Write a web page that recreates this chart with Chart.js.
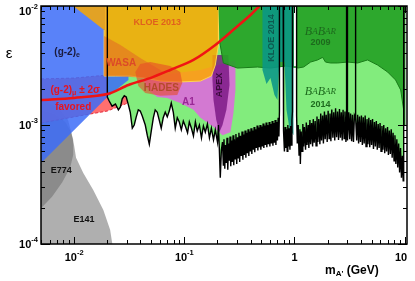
<!DOCTYPE html>
<html>
<head>
<meta charset="utf-8">
<script src="https://cdn.jsdelivr.net/npm/chart.js@4.4.1/dist/chart.umd.min.js"></script>
<style>
  html, body { margin: 0; padding: 0; background: #fff; }
  #wrap { width: 415px; height: 281px; }
</style>
</head>
<body>
<div id="wrap"><canvas id="darkPhoton" width="415" height="281"></canvas></div>
<script>
// axis range (mass in GeV, kinetic mixing epsilon)
const massRange = [0.005, 10.5];
const epsRange = [1e-4, 1e-2];
const xTickValues = [0.01, 0.1, 1, 10];
const xTickLabels = [['10', '-2'], ['10', '-1'], ['1', ''], ['10', '']];
const yTickValues = [1e-4, 1e-3, 1e-2];
const yTickLabels = [['10', '-4'], ['10', '-3'], ['10', '-2']];

// region outlines, [mass, epsilon]
const e141Edge = [[0.005, 1.34e-3], [0.0067, 1.24e-3], [0.0083, 1.06e-3], [0.0094, 8.6e-4], [0.0100, 6.7e-4],
  [0.0104, 5.3e-4], [0.0121, 3.95e-4], [0.0149, 2.84e-4], [0.0184, 1.93e-4], [0.0212, 1.32e-4],
  [0.0222, 1.0e-4], [0.005, 1.0e-4]];
const e774Edge = [[0.005, 1.62e-3], [0.0072, 1.39e-3], [0.0088, 1.10e-3], [0.0098, 7.5e-4], [0.0098, 5.6e-4],
  [0.0092, 4.4e-4], [0.0078, 3.3e-4], [0.0063, 2.5e-4], [0.005, 2.0e-4]];
const gm2MuBand = [[0.005, 2.44e-3], [0.010, 2.48e-3], [0.020, 2.63e-3], [0.0311, 3.26e-3], [0.049, 3.73e-3],
  [0.0745, 4.35e-3], [0.121, 5.28e-3], [0.191, 7.06e-3], [0.273, 1.0e-2], [0.746, 1.0e-2], [0.605, 7.63e-3],
  [0.398, 5.38e-3], [0.212, 3.38e-3], [0.113, 2.39e-3], [0.0605, 1.97e-3], [0.0398, 1.69e-3],
  [0.0291, 1.50e-3], [0.020, 1.31e-3], [0.0122, 1.21e-3], [0.005, 1.04e-3]];
const gm2MuCentral = [[0.005, 1.62e-3], [0.010, 1.69e-3], [0.020, 1.82e-3], [0.0311, 2.17e-3], [0.049, 2.48e-3],
  [0.0745, 2.90e-3], [0.121, 3.52e-3], [0.191, 4.70e-3], [0.291, 6.53e-3], [0.398, 8.4e-3], [0.48, 1.0e-2]];
const gm2eEdge = [[0.005, 1.0e-2], [0.0191, 1.0e-2], [0.0191, 2.58e-3], [0.0311, 2.58e-3], [0.0311, 2.39e-3],
  [0.020, 1.72e-3], [0.005, 4.8e-4]];
const kloe2013Edge = [[0.0098, 1.0e-2], [0.204, 1.0e-2], [0.204, 4.7e-3], [0.191, 3.19e-3], [0.176, 2.58e-3],
  [0.140, 2.34e-3], [0.0918, 2.30e-3], [0.0605, 2.34e-3], [0.0442, 2.48e-3], [0.0323, 2.58e-3],
  [0.0237, 2.58e-3], [0.0187, 2.58e-3], [0.0187, 6.28e-3]];
const wasaEdge = [[0.0187, 5.6e-3], [0.0263, 4.7e-3], [0.0398, 3.66e-3], [0.0671, 2.74e-3], [0.049, 2.48e-3],
  [0.0323, 2.53e-3], [0.0237, 2.58e-3], [0.0187, 2.58e-3]];
const hadesEdge = [[0.0359, 2.79e-3], [0.0398, 3.26e-3], [0.049, 3.38e-3], [0.0745, 3.13e-3], [0.0918, 2.79e-3],
  [0.0959, 2.26e-3], [0.0863, 1.79e-3], [0.0605, 1.76e-3], [0.0442, 1.86e-3], [0.0382, 2.13e-3]];
const a1Edge = [[0.0424, 2.39e-3], [0.0471, 1.97e-3], [0.0568, 1.72e-3], [0.070, 1.69e-3], [0.0918, 1.53e-3],
  [0.121, 1.34e-3], [0.140, 1.15e-3], [0.184, 9.6e-4], [0.222, 8.2e-4], [0.262, 8.7e-4], [0.279, 1.26e-3],
  [0.291, 1.97e-3], [0.291, 3.52e-3], [0.140, 2.90e-3], [0.0605, 2.63e-3]];
const apexEdge = [[0.180, 3.87e-3], [0.251, 3.87e-3], [0.257, 2.17e-3], [0.241, 1.34e-3], [0.222, 1.0e-3],
  [0.208, 8.7e-4], [0.195, 1.10e-3], [0.184, 1.62e-3], [0.180, 2.39e-3]];
const kloe2014Edge = [[0.512, 1.0e-2], [0.979, 1.0e-2], [0.979, 8.2e-4], [0.90, 9.4e-4], [0.846, 1.34e-3],
  [0.811, 3.38e-3], [0.73, 3.38e-3], [0.70, 1.62e-3], [0.658, 1.79e-3], [0.605, 2.48e-3], [0.557, 2.21e-3],
  [0.512, 2.90e-3]];
const babar2009Edge = [[0.204, 1.0e-2], [0.969, 1.0e-2], [0.969, 3.07e-3], [1.043, 3.07e-3], [1.043, 1.0e-2],
  [10.0, 1.0e-2], [10.0, 1.0e-3], [9.79, 1.34e-3], [9.2, 1.97e-3], [8.27, 2.39e-3], [7.0, 2.79e-3],
  [5.68, 3.19e-3], [4.61, 3.52e-3], [3.74, 3.32e-3], [3.03, 3.38e-3], [2.46, 3.32e-3], [2.12, 3.32e-3],
  [1.91, 3.38e-3], [1.80, 3.70e-3], [1.62, 3.52e-3], [1.40, 3.38e-3], [1.21, 3.07e-3], [1.065, 3.01e-3],
  [1.043, 3.07e-3], [0.969, 3.07e-3], [0.828, 3.13e-3], [0.605, 3.01e-3], [0.461, 3.07e-3], [0.303, 3.01e-3],
  [0.226, 3.32e-3], [0.208, 5.18e-3]];
const babar2014Limit = [
  [0.0200, 1.0e-2], [0.0200, 1.72e-3], [0.0208, 1.59e-3], [0.0221, 1.44e-3], [0.0237, 1.50e-3], [0.0252, 1.34e-3],
  [0.0263, 1.42e-3], [0.0273, 1.66e-3], [0.0285, 1.76e-3], [0.0297, 1.72e-3], [0.0311, 1.47e-3], [0.0323, 1.28e-3],
  [0.0337, 9.4e-4], [0.0351, 1.0e-3], [0.0366, 1.17e-3], [0.0382, 1.34e-3], [0.0398, 1.31e-3], [0.0415, 1.19e-3],
  [0.0442, 1.0e-3], [0.0461, 8.2e-4], [0.0481, 6.9e-4], [0.0501, 8.9e-4], [0.0523, 1.15e-3], [0.0544, 1.34e-3],
  [0.0568, 1.28e-3], [0.0592, 1.10e-3], [0.0617, 9.4e-4], [0.0643, 1.15e-3], [0.0671, 1.28e-3], [0.0700, 1.17e-3],
  [0.0730, 1.31e-3], [0.0761, 1.53e-3], [0.0794, 1.28e-3], [0.0827, 9.4e-4], [0.0863, 1.15e-3], [0.0900, 1.06e-3],
  [0.0939, 9.1e-4], [0.0979, 1.08e-3], [0.102, 9.8e-4], [0.107, 8.6e-4], [0.111, 1.06e-3], [0.116, 9.4e-4],
  [0.121, 8.1e-4], [0.126, 1.06e-3], [0.131, 8.9e-4], [0.137, 1.0e-3], [0.143, 7.8e-4], [0.149, 9.8e-4],
  [0.155, 8.7e-4], [0.162, 1.02e-3], [0.169, 7.8e-4], [0.176, 9.4e-4], [0.184, 7.5e-4], [0.191, 9.1e-4],
  [0.200, 7.2e-4], [0.204, 1.0e-3], [0.208, 6.2e-4], [0.212, 3.6e-4], [0.217, 6.2e-4],
  [0.222, 7.2e-4], [0.226, 4.6e-4], [0.229, 7.6e-4], [0.233, 4.3e-4], [0.236, 6.8e-4], [0.240, 4.8e-4],
  [0.244, 7.8e-4], [0.248, 4.2e-4], [0.252, 7.0e-4], [0.256, 5.0e-4], [0.260, 8.0e-4], [0.264, 4.5e-4],
  [0.268, 7.4e-4], [0.272, 4.9e-4], [0.277, 8.2e-4], [0.281, 4.6e-4], [0.285, 7.6e-4], [0.290, 5.2e-4],
  [0.294, 8.4e-4], [0.299, 4.7e-4], [0.304, 7.9e-4], [0.309, 5.3e-4], [0.313, 8.6e-4], [0.318, 4.9e-4],
  [0.323, 8.1e-4], [0.329, 5.5e-4], [0.334, 8.8e-4], [0.340, 5.1e-4], [0.345, 8.3e-4], [0.350, 5.6e-4],
  [0.356, 9.0e-4], [0.362, 5.3e-4], [0.367, 8.6e-4], [0.373, 5.8e-4], [0.379, 9.2e-4], [0.385, 5.5e-4],
  [0.391, 8.8e-4], [0.397, 6.0e-4], [0.403, 9.4e-4], [0.410, 5.7e-4], [0.416, 9.0e-4], [0.423, 6.2e-4],
  [0.430, 9.6e-4], [0.436, 5.9e-4], [0.443, 9.2e-4], [0.450, 6.4e-4], [0.458, 9.9e-4], [0.465, 6.1e-4],
  [0.472, 9.5e-4], [0.480, 6.5e-4], [0.487, 1.0e-3], [0.495, 6.2e-4], [0.503, 9.7e-4], [0.511, 6.6e-4],
  [0.519, 1.03e-3], [0.527, 6.4e-4], [0.536, 9.9e-4], [0.544, 6.8e-4], [0.553, 1.05e-3], [0.561, 6.5e-4],
  [0.570, 1.0e-3], [0.580, 6.9e-4], [0.589, 1.06e-3], [0.598, 6.6e-4], [0.607, 1.02e-3], [0.617, 7.0e-4],
  [0.627, 1.08e-3], [0.637, 6.7e-4], [0.647, 1.04e-3], [0.657, 7.1e-4], [0.667, 1.1e-3], [0.678, 6.8e-4],
  [0.689, 1.06e-3], [0.700, 7.4e-4], [0.711, 1.15e-3], [0.722, 8.0e-4], [0.730, 1.3e-3],
  [0.730, 1.0e-2], [0.790, 1.0e-2], [0.790, 1.3e-3],
  [0.800, 9.0e-4], [0.810, 6.0e-4], [0.822, 9.6e-4], [0.834, 6.4e-4], [0.846, 9.2e-4], [0.858, 6.0e-4],
  [0.870, 1.0e-3], [0.883, 6.6e-4], [0.896, 9.4e-4], [0.909, 6.2e-4], [0.922, 9.8e-4], [0.935, 6.8e-4],
  [0.948, 1.1e-3], [0.958, 1.3e-3], [0.958, 1.0e-2], [1.045, 1.0e-2], [1.045, 1.2e-3],
  [1.06, 7.0e-4], [1.08, 1.0e-3], [1.10, 5.6e-4], [1.12, 9.2e-4], [1.13, 4.7e-4], [1.15, 8.8e-4],
  [1.17, 6.0e-4], [1.19, 1.02e-3], [1.21, 6.6e-4], [1.23, 9.6e-4], [1.26, 6.2e-4], [1.28, 1.05e-3],
  [1.30, 6.8e-4], [1.33, 1.0e-3], [1.35, 6.4e-4], [1.38, 1.1e-3], [1.40, 6.9e-4], [1.43, 1.04e-3],
  [1.46, 6.6e-4], [1.48, 1.12e-3], [1.51, 7.1e-4], [1.54, 1.08e-3], [1.57, 6.7e-4], [1.60, 1.18e-3],
  [1.63, 7.2e-4], [1.66, 1.12e-3], [1.70, 6.9e-4], [1.73, 1.25e-3], [1.76, 7.4e-4], [1.80, 1.2e-3],
  [1.83, 7.0e-4], [1.87, 1.3e-3], [1.90, 7.6e-4], [1.94, 1.22e-3], [1.98, 7.2e-4], [2.02, 1.32e-3],
  [2.06, 7.7e-4], [2.10, 1.25e-3], [2.14, 7.3e-4], [2.18, 1.35e-3], [2.23, 7.8e-4], [2.27, 1.28e-3],
  [2.32, 7.4e-4], [2.36, 1.38e-3], [2.41, 7.9e-4], [2.46, 1.3e-3], [2.51, 7.5e-4], [2.56, 1.36e-3],
  [2.61, 7.8e-4], [2.66, 1.28e-3], [2.71, 7.4e-4], [2.76, 1.34e-3], [2.82, 7.7e-4], [2.87, 1.3e-3],
  [2.93, 7.2e-4], [2.97, 1.2e-3], [2.97, 1.0e-2], [3.00, 1.0e-2], [3.00, 1.1e-3],
  [3.05, 7.4e-4], [3.11, 1.28e-3], [3.17, 7.6e-4], [3.23, 1.25e-3], [3.30, 7.3e-4], [3.36, 1.22e-3],
  [3.43, 7.2e-4], [3.50, 1.2e-3], [3.56, 1.15e-3], [3.56, 1.0e-2], [3.60, 1.0e-2], [3.60, 1.15e-3],
  [3.67, 7.4e-4], [3.74, 1.22e-3], [3.82, 7.0e-4], [3.89, 1.18e-3], [3.97, 7.2e-4], [4.05, 1.2e-3],
  [4.13, 6.8e-4], [4.21, 1.16e-3], [4.29, 7.0e-4], [4.38, 1.2e-3], [4.46, 6.6e-4], [4.55, 1.12e-3],
  [4.64, 6.9e-4], [4.73, 1.15e-3], [4.82, 6.5e-4], [4.92, 1.1e-3], [5.01, 6.8e-4], [5.11, 1.12e-3],
  [5.21, 6.3e-4], [5.32, 1.06e-3], [5.42, 6.6e-4], [5.53, 1.08e-3], [5.64, 6.2e-4], [5.75, 1.02e-3],
  [5.86, 6.4e-4], [5.98, 1.04e-3], [6.10, 6.0e-4], [6.22, 9.8e-4], [6.34, 6.2e-4], [6.46, 1.0e-3],
  [6.59, 5.8e-4], [6.72, 9.4e-4], [6.85, 6.0e-4], [6.99, 9.6e-4], [7.12, 5.6e-4], [7.26, 9.0e-4],
  [7.41, 5.7e-4], [7.55, 9.2e-4], [7.70, 5.3e-4], [7.85, 8.6e-4], [8.01, 5.0e-4], [8.16, 8.2e-4],
  [8.32, 4.7e-4], [8.49, 7.6e-4], [8.65, 4.4e-4], [8.82, 7.0e-4], [9.00, 4.0e-4], [9.17, 6.4e-4],
  [9.35, 3.6e-4], [9.53, 5.5e-4], [9.70, 3.4e-4], [9.80, 6.0e-4], [9.80, 1.0e-2]];

const SANS = '"Liberation Sans", Arial, Helvetica, sans-serif';
const SERIF = '"Liberation Serif", "Times New Roman", serif';

function pts(edge) {
    return edge.map(([m, e]) => ({ x: m, y: e }));
}

function region(label, edge, color, extra) {
    return Object.assign({
        label: label,
        data: pts(edge),
        showLine: true,
        fill: 'shape',
        backgroundColor: color,
        borderColor: 'rgba(0,0,0,0)',
        borderWidth: 1,
        pointRadius: 0,
        pointHoverRadius: 0,
        tension: 0
    }, extra || {});
}

// bottom layer first
const layers = [
    region('E141', e141Edge, 'rgba(110,110,110,0.55)'),
    region('E774', e774Edge, 'rgba(110,110,110,0.55)'),
    region('(g-2)mu band', gm2MuBand, 'rgba(255,95,95,0.9)', { borderColor: 'rgba(225,30,50,0.9)', borderDash: [3, 2] }),
    region('BaBar 2014 fill', babar2014Limit, 'rgb(130,236,125)'),
    region('(g-2)e', gm2eEdge, 'rgba(60,108,248,0.85)'),
    region('A1', a1Edge, 'rgba(222,105,222,0.88)'),
    region('APEX', apexEdge, 'rgba(120,20,130,0.8)'),
    region('KLOE 2013', kloe2013Edge, 'rgba(252,168,0,0.85)', { borderColor: 'rgba(255,215,80,0.95)' }),
    region('WASA', wasaEdge, 'rgba(225,95,40,0.5)'),
    region('HADES', hadesEdge, 'rgba(232,75,40,0.6)'),
    region('BaBar 2009', babar2009Edge, 'rgba(38,162,38,0.92)', { borderColor: 'rgb(25,125,25)' }),
    region('KLOE 2014', kloe2014Edge, 'rgba(10,150,135,0.88)'),
    region('BaBar 2014', babar2014Limit, 'rgba(0,0,0,0)', { fill: false, borderColor: '#000', borderWidth: 1.4 }),
    region('(g-2)mu', gm2MuCentral, 'rgba(0,0,0,0)', { fill: false, borderColor: 'rgb(240,20,20)', borderWidth: 2.5, tension: 0.3 })
];
layers.forEach((ds, i) => { ds.order = layers.length - i; });

// text with sub/superscripts: parts = [text, font, dy]
function drawRich(ctx, parts, px, py, align) {
    let w = 0;
    parts.forEach(p => { ctx.font = p[1]; w += ctx.measureText(p[0]).width; });
    let cx = align === 'center' ? px - w / 2 : (align === 'right' ? px - w : px);
    ctx.textAlign = 'left';
    parts.forEach(p => {
        ctx.font = p[1];
        ctx.fillText(p[0], cx, py + (p[2] || 0));
        cx += ctx.measureText(p[0]).width;
    });
}

function babarParts(big, small) {
    const B = 'italic ' + big + 'px ' + SERIF;
    const s = 'italic ' + small + 'px ' + SERIF;
    return [['B', B], ['A', s], ['B', B], ['AR', s]];
}

const labelPlugin = {
    id: 'regionLabels',
    afterDatasetsDraw(chart) {
        const { ctx } = chart;
        const x = chart.scales.x, y = chart.scales.y;
        const at = (m, e) => [x.getPixelForValue(m), y.getPixelForValue(e)];
        const b10 = 'bold 10px ' + SANS, b9 = 'bold 9px ' + SANS, b7 = 'bold 7px ' + SANS;
        ctx.save();
        ctx.textBaseline = 'middle';

        const put = (m, e, color, parts) => {
            const [px, py] = at(m, e);
            ctx.fillStyle = color;
            drawRich(ctx, parts, px, py, 'center');
        };
        put(0.00863, 4.1e-3, '#1b1b3c', [['(g-2)', b10], ['e', b7, 3]]);
        put(0.0102, 1.97e-3, '#e8141e', [['(g-2)', b10], ['\u03bc', b7, 3], [' \u00b1 2\u03c3', b10]]);
        put(0.0098, 1.42e-3, '#e8141e', [['favored', b10]]);
        put(0.0267, 3.32e-3, '#dc4a28', [['WASA', b10]]);
        put(0.0569, 7.2e-3, '#e0601e', [['KLOE 2013', b9]]);
        put(0.0618, 2.05e-3, '#b44a2a', [['HADES', b10]]);
        put(0.109, 1.56e-3, '#9a2896', [['A1', b10]]);
        put(0.00762, 4.18e-4, '#111', [['E774', b9]]);
        put(0.0123, 1.62e-4, '#111', [['E141', b9]]);

        put(1.72, 6.05e-3, '#1d6a1d', babarParts(12, 9));
        put(1.72, 4.98e-3, '#1d6a1d', [['2009', b9]]);
        put(1.72, 1.89e-3, '#1d6a1d', babarParts(12, 9));
        put(1.72, 1.50e-3, '#1d6a1d', [['2014', b9]]);

        const vertical = (m, e, color, text) => {
            const [px, py] = at(m, e);
            ctx.save();
            ctx.translate(px, py);
            ctx.rotate(-Math.PI / 2);
            ctx.fillStyle = color;
            ctx.font = b9;
            ctx.textAlign = 'center';
            ctx.fillText(text, 0, 0);
            ctx.restore();
        };
        vertical(0.208, 2.17e-3, '#3a0a3a', 'APEX');
        vertical(0.618, 5.38e-3, '#0d5a50', 'KLOE 2014');
        ctx.restore();
    }
};

function logTicks(min, max) {
    const out = [];
    for (let d = Math.floor(Math.log10(min)); d <= Math.ceil(Math.log10(max)); d++) {
        for (let k = 1; k < 10; k++) {
            const v = k * Math.pow(10, d);
            if (v >= min * 0.999 && v <= max * 1.001) out.push({ v: v, major: k === 1 });
        }
    }
    return out;
}

const framePlugin = {
    id: 'frameAndTicks',
    afterDraw(chart) {
        const { ctx, chartArea: a } = chart;
        const x = chart.scales.x, y = chart.scales.y;
        ctx.save();
        ctx.strokeStyle = '#000';
        ctx.lineWidth = 1;
        ctx.beginPath();
        logTicks(massRange[0], massRange[1]).forEach(t => {
            const px = Math.round(x.getPixelForValue(t.v)) + 0.5;
            const len = t.major ? 7 : 4;
            ctx.moveTo(px, a.bottom); ctx.lineTo(px, a.bottom - len);
            ctx.moveTo(px, a.top); ctx.lineTo(px, a.top + len);
        });
        logTicks(epsRange[0], epsRange[1]).forEach(t => {
            const py = Math.round(y.getPixelForValue(t.v)) + 0.5;
            const len = t.major ? 9 : 4;
            ctx.moveTo(a.left, py); ctx.lineTo(a.left + len, py);
            ctx.moveTo(a.right, py); ctx.lineTo(a.right - len, py);
        });
        ctx.stroke();
        ctx.lineWidth = 1.5;
        ctx.strokeRect(a.left, a.top, a.right - a.left, a.bottom - a.top);

        // tick labels
        ctx.fillStyle = '#000';
        ctx.textBaseline = 'middle';
        const big = 'bold 11px ' + SANS, sup = 'bold 7.5px ' + SANS;
        yTickValues.forEach((v, i) => {
            const py = Math.max(y.getPixelForValue(v), 11);
            const [base, exp] = yTickLabels[i];
            drawRich(ctx, [[base, big], [exp, sup, -5]], a.left - 3, py + 1, 'right');
        });
        xTickValues.forEach((v, i) => {
            const [base, exp] = xTickLabels[i];
            let px = x.getPixelForValue(v);
            drawRich(ctx, [[base, big], [exp, sup, -5]], Math.min(px, 401), a.bottom + 14, 'center');
        });

        // axis titles
        drawRich(ctx, [['m', 'bold 12px ' + SANS], ["A'", 'bold 8px ' + SANS, 3], [' (GeV)', 'bold 12px ' + SANS]],
            325, 271, 'left');
        ctx.font = '15px ' + SANS;
        ctx.textAlign = 'center';
        ctx.fillText('\u03b5', 9, 54);
        ctx.restore();
    }
};

new Chart(document.getElementById('darkPhoton').getContext('2d'), {
    type: 'scatter',
    data: { datasets: layers },
    options: {
        responsive: false,
        animation: false,
        devicePixelRatio: 1,
        layout: { padding: { left: 41, top: 6, right: 8, bottom: 37 } },
        plugins: { legend: { display: false }, tooltip: { enabled: false } },
        scales: {
            x: { type: 'logarithmic', min: massRange[0], max: massRange[1], display: false },
            y: { type: 'logarithmic', min: epsRange[0], max: epsRange[1], display: false }
        }
    },
    plugins: [labelPlugin, framePlugin]
});
</script>
</body>
</html>
